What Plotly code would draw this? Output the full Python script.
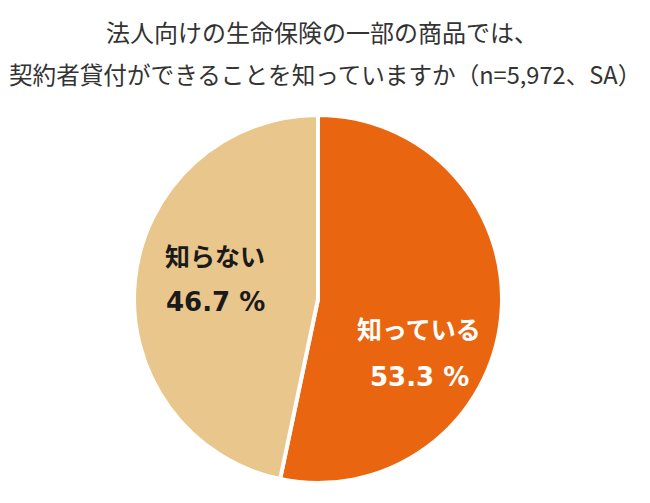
import plotly.graph_objects as go

labels = ["知っている", "知らない"]
values = [53.3, 46.7]
colors = ["#E9650F", "#E8C68C"]
label_colors = ["#FFFFFF", "#1A1A1A"]
title_lines = ["法人向けの生命保険の一部の商品では、", "契約者貸付ができることを知っていますか（n=5,972、SA）"]

W, H = 650, 503
cx, cy, r = 318, 299, 184

fig = go.Figure(go.Pie(
    labels=labels, values=values, sort=False, direction="clockwise", rotation=0,
    marker=dict(colors=colors, line=dict(color="#FFFFFF", width=4)),
    textinfo="none", hoverinfo="label+percent", showlegend=False,
    domain=dict(x=[(cx - r) / W, (cx + r) / W], y=[(H - cy - r) / H, (H - cy + r) / H]),
))

font_cjk = "Noto Sans CJK JP"
ann = []
for i, line in enumerate(title_lines):
    ann.append(dict(text=line, x=[322, 325][i] / W, y=1 - [31, 74][i] / H, xref="paper", yref="paper",
                    showarrow=False, xanchor="center", yanchor="middle",
                    font=dict(family=font_cjk, size=[24, 23.6][i], color="#333333")))

# label positions (px) for each slice
pos = [(419, 328, 377), (215, 255, 302)]
for i, (lab, val) in enumerate(zip(labels, values)):
    x, y1, y2 = pos[i]
    ann.append(dict(text=f"<b>{lab}</b>", x=x / W, y=1 - y1 / H, xref="paper", yref="paper",
                    showarrow=False, xanchor="center", yanchor="middle",
                    font=dict(family=font_cjk, size=25, color=label_colors[i])))
    ann.append(dict(text=f"<b>{val:.1f} %</b>", x=x / W, y=1 - y2 / H, xref="paper", yref="paper",
                    showarrow=False, xanchor="center", yanchor="middle",
                    font=dict(family="DejaVu Sans", size=26, color=label_colors[i])))

fig.update_layout(width=W, height=H, margin=dict(l=0, r=0, t=0, b=0),
                  paper_bgcolor="white", plot_bgcolor="white", annotations=ann)
fig.write_html("out.html")
